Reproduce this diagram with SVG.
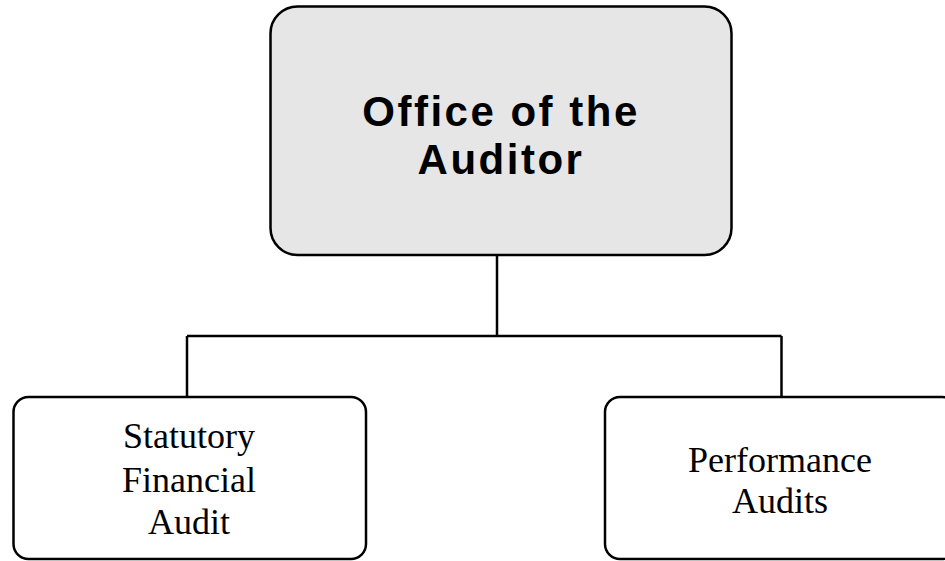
<svg xmlns="http://www.w3.org/2000/svg" width="945" height="561" viewBox="0 0 945 561">
  <style>
    .box { stroke: #000; stroke-width: 2.5; }
    .head { fill: #e6e6e6; }
    .unit { fill: #fff; }
    .link { fill: none; stroke: #000; stroke-width: 2.5; }
    .title { font-family: "Liberation Sans", Arial, sans-serif; font-weight: bold; font-size: 42px; letter-spacing: 2.5px; fill: #000; text-anchor: middle; }
    .label { font-family: "Liberation Serif", "Times New Roman", serif; font-size: 36px; fill: #000; text-anchor: middle; }
  </style>
  <rect width="945" height="561" fill="#fff"/>

  <g id="connectors">
    <path class="link" d="M497 255 V336"/>
    <path class="link" d="M187 336 H781.5"/>
    <path class="link" d="M187 336 V397"/>
    <path class="link" d="M781.5 336 V397"/>
  </g>

  <g id="office-of-the-auditor">
    <rect class="box head" x="270.5" y="6.5" width="461" height="248.5" rx="27" ry="27"/>
    <text class="title" x="501" y="126">Office of the</text>
    <text class="title" x="501" y="173.5">Auditor</text>
  </g>

  <g id="statutory-financial-audit">
    <rect class="box unit" x="13.5" y="397" width="352.5" height="162" rx="15" ry="15"/>
    <text class="label" x="189" y="448">Statutory</text>
    <text class="label" x="189" y="491.5">Financial</text>
    <text class="label" x="189" y="534">Audit</text>
  </g>

  <g id="performance-audits">
    <rect class="box unit" x="605" y="397" width="352" height="162" rx="15" ry="15"/>
    <text class="label" x="780" y="471.5">Performance</text>
    <text class="label" x="780" y="513">Audits</text>
  </g>
</svg>
